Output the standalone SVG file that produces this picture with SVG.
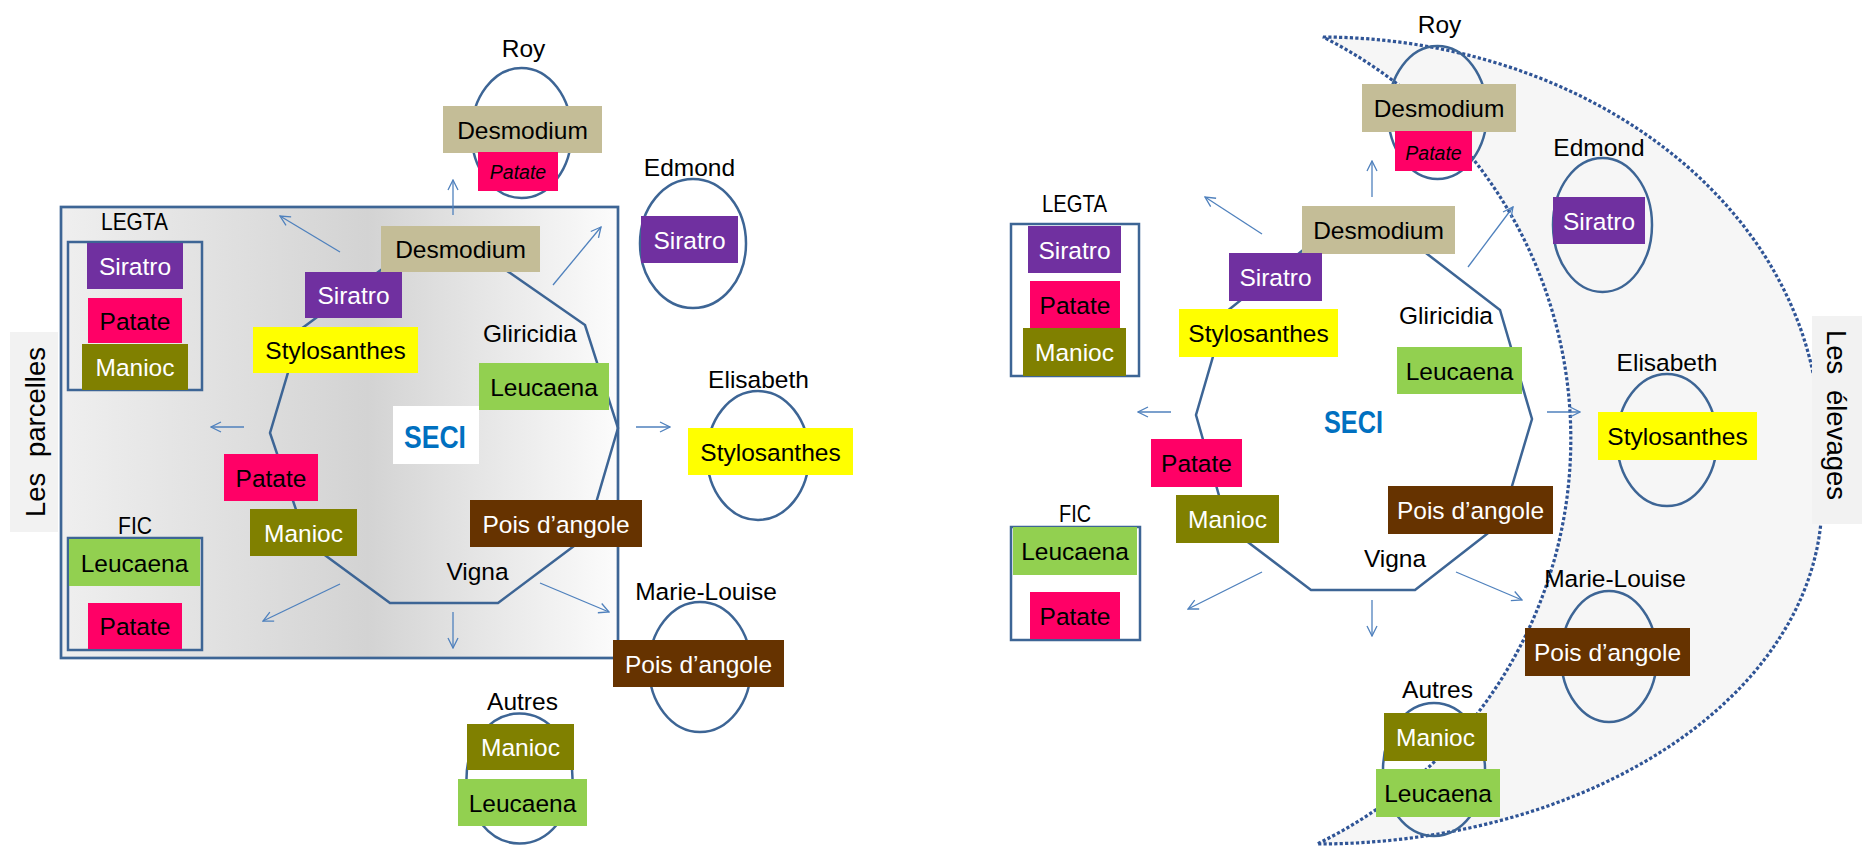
<svg xmlns="http://www.w3.org/2000/svg" width="1865" height="851" viewBox="0 0 1865 851">
<style>
.t{font-family:"Liberation Sans",Arial,sans-serif;font-size:24.5px;text-anchor:middle;fill:#000}
.w{fill:#fff}
.it{font-style:italic;font-size:19.5px}
.pu{fill:#7030a0}.pk{fill:#ff0066}.ol{fill:#808000}.ye{fill:#ffff00}.gr{fill:#92d050}.br{fill:#663300}.ta{fill:#c4bd97}
.ln{fill:none;stroke:#3d6595;stroke-width:2.5}
.ar{fill:none;stroke:#4f81bd;stroke-width:1.3;marker-end:url(#ah)}
.seci{font-family:"Liberation Sans",Arial,sans-serif;font-weight:bold;font-size:32px;fill:#0070c0;text-anchor:middle}
.side{font-family:"Liberation Sans",Arial,sans-serif;font-size:27.5px;text-anchor:middle;fill:#000;word-spacing:8px}
</style>
<defs>
<linearGradient id="gb" x1="0" y1="0" x2="1" y2="0">
<stop offset="0" stop-color="#efefef"/>
<stop offset="0.55" stop-color="#d3d3d3"/>
<stop offset="1" stop-color="#fcfcfc"/>
</linearGradient>
<marker id="ah" viewBox="0 0 12 12" refX="11" refY="6" markerWidth="12" markerHeight="12" markerUnits="userSpaceOnUse" orient="auto">
<path d="M1,1 L11,6 L1,11" fill="none" stroke="#4f81bd" stroke-width="1.3"/>
</marker>
</defs>
<rect width="1865" height="851" fill="#fff"/>

<!-- ===== LEFT DIAGRAM ===== -->
<g id="parcelles-area">
<rect x="61" y="207" width="557" height="451" fill="url(#gb)" stroke="#3d6595" stroke-width="2.7"/>
</g>
<g id="label-parcelles">
<rect x="10" y="332" width="48" height="200" fill="#f2f2f2"/>
<text class="side" transform="translate(45,432) rotate(-90)">Les parcelles</text>
</g>

<g id="L-legta">
<text class="t" x="134.5" y="230" textLength="67" lengthAdjust="spacingAndGlyphs">LEGTA</text>
<rect class="ln" x="68" y="242" width="134" height="148"/>
<rect class="pu" x="87" y="243" width="96" height="46"/><text class="t w" x="135" y="275">Siratro</text>
<rect class="pk" x="88" y="298" width="94" height="45"/><text class="t" x="135" y="329.5">Patate</text>
<rect class="ol" x="82" y="344" width="106" height="46"/><text class="t w" x="135" y="376">Manioc</text>
</g>

<g id="L-fic">
<text class="t" x="135" y="534" textLength="34" lengthAdjust="spacingAndGlyphs">FIC</text>
<rect class="ln" x="68" y="538" width="134" height="112"/>
<rect class="gr" x="69" y="539" width="131" height="47"/><text class="t" x="134.5" y="571.5">Leucaena</text>
<rect class="pk" x="88" y="603" width="94" height="46"/><text class="t" x="135" y="635">Patate</text>
</g>

<g id="L-seci">
<polygon class="ln" points="408,250 477,250 585,325 618,428 586,537 498,603 390,603 307,542 270,433 301,329"/>
<rect x="393" y="406" width="86" height="58" fill="#fff"/>
<text class="seci" x="435" y="448" textLength="62" lengthAdjust="spacingAndGlyphs">SECI</text>
<rect class="ta" x="381" y="226" width="159" height="46"/><text class="t" x="460.5" y="258">Desmodium</text>
<rect class="pu" x="305" y="272" width="97" height="46"/><text class="t w" x="353.5" y="304">Siratro</text>
<rect class="ye" x="253" y="327" width="165" height="46"/><text class="t" x="335.5" y="359">Stylosanthes</text>
<text class="t" x="530" y="342">Gliricidia</text>
<rect class="gr" x="479" y="363" width="130" height="47"/><text class="t" x="544" y="395.5">Leucaena</text>
<rect class="pk" x="224" y="454" width="94" height="47"/><text class="t" x="271" y="486.5">Patate</text>
<rect class="ol" x="250" y="509" width="107" height="47"/><text class="t w" x="303.5" y="541.5">Manioc</text>
<rect class="br" x="470" y="500" width="172" height="47"/><text class="t w" x="556" y="532.5">Pois d’angole</text>
<text class="t" x="477.5" y="580">Vigna</text>
</g>

<g id="L-roy">
<text class="t" x="523.5" y="57">Roy</text>
<ellipse class="ln" cx="521.5" cy="133" rx="50" ry="65"/>
<rect class="ta" x="443" y="106" width="159" height="47"/><text class="t" x="522.5" y="138.5">Desmodium</text>
<rect class="pk" x="478" y="152" width="80" height="39"/><text class="t it" x="518" y="179">Patate</text>
</g>

<g id="L-edmond">
<text class="t" x="689.5" y="176">Edmond</text>
<ellipse class="ln" cx="693" cy="243.5" rx="53" ry="64.5"/>
<rect class="pu" x="641" y="216" width="97" height="47"/><text class="t w" x="689.5" y="248.5">Siratro</text>
</g>

<g id="L-elisabeth">
<text class="t" x="758.5" y="388">Elisabeth</text>
<ellipse class="ln" cx="758" cy="455.5" rx="51" ry="64.5"/>
<rect class="ye" x="688" y="428" width="165" height="47"/><text class="t" x="770.5" y="460.5">Stylosanthes</text>
</g>

<g id="L-marie-louise">
<text class="t" x="706" y="600">Marie-Louise</text>
<ellipse class="ln" cx="700" cy="667" rx="51" ry="65"/>
<rect class="br" x="613" y="640" width="171" height="47"/><text class="t w" x="698.5" y="672.5">Pois d’angole</text>
</g>

<g id="L-autres">
<text class="t" x="522.5" y="710">Autres</text>
<ellipse class="ln" cx="519.5" cy="778.5" rx="53" ry="65"/>
<rect class="ol" x="467" y="724" width="107" height="46"/><text class="t w" x="520.5" y="756">Manioc</text>
<rect class="gr" x="458" y="779" width="129" height="47"/><text class="t" x="522.5" y="811.5">Leucaena</text>
</g>

<!-- ===== RIGHT DIAGRAM ===== -->
<g id="elevages-area">
<path d="M1323,37 A500,403 0 0 1 1820,440 L1822,500 A505,344 0 0 1 1317,844 A450,450 0 0 0 1323,37 Z" fill="#f6f6f6" stroke="#2f5496" stroke-width="3.2" stroke-dasharray="3.2 2.2"/>
</g>
<g id="label-elevages">
<rect x="1812" y="316" width="50" height="208" fill="#f2f2f2"/>
<text class="side" transform="translate(1827,415) rotate(90)">Les élevages</text>
</g>

<g id="R-legta">
<text class="t" x="1074.5" y="212" textLength="65" lengthAdjust="spacingAndGlyphs">LEGTA</text>
<rect class="ln" x="1011" y="224" width="128" height="152"/>
<rect class="pu" x="1028" y="226" width="93" height="47"/><text class="t w" x="1074.5" y="258.5">Siratro</text>
<rect class="pk" x="1030" y="281" width="90" height="47"/><text class="t" x="1075" y="313.5">Patate</text>
<rect class="ol" x="1023" y="328" width="103" height="48"/><text class="t w" x="1074.5" y="361">Manioc</text>
</g>

<g id="R-fic">
<text class="t" x="1075" y="522" textLength="32" lengthAdjust="spacingAndGlyphs">FIC</text>
<rect class="ln" x="1011" y="527" width="129" height="113"/>
<rect class="gr" x="1013" y="527" width="124" height="48"/><text class="t" x="1075" y="560">Leucaena</text>
<rect class="pk" x="1030" y="592" width="90" height="47"/><text class="t" x="1075" y="624.5">Patate</text>
</g>

<g id="R-seci">
<polygon class="ln" points="1328,230 1396,230 1500,310 1532,419 1501,523 1415,590 1311,590 1228,527 1196,415 1226,312"/>
<text class="seci" x="1353.5" y="433" textLength="59" lengthAdjust="spacingAndGlyphs">SECI</text>
<rect class="ta" x="1302" y="206" width="153" height="48"/><text class="t" x="1378.5" y="239">Desmodium</text>
<rect class="pu" x="1229" y="253" width="93" height="48"/><text class="t w" x="1275.5" y="286">Siratro</text>
<rect class="ye" x="1179" y="309" width="159" height="48"/><text class="t" x="1258.5" y="342">Stylosanthes</text>
<text class="t" x="1446" y="324">Gliricidia</text>
<rect class="gr" x="1397" y="347" width="125" height="47"/><text class="t" x="1459.5" y="379.5">Leucaena</text>
<rect class="pk" x="1151" y="439" width="91" height="48"/><text class="t" x="1196.5" y="472">Patate</text>
<rect class="ol" x="1176" y="495" width="103" height="48"/><text class="t w" x="1227.5" y="528">Manioc</text>
<rect class="br" x="1388" y="486" width="165" height="48"/><text class="t w" x="1470.5" y="519">Pois d’angole</text>
<text class="t" x="1395" y="567">Vigna</text>
</g>

<g id="R-roy">
<text class="t" x="1439.5" y="33">Roy</text>
<ellipse class="ln" cx="1437.5" cy="112.5" rx="49.5" ry="66.5"/>
<rect class="ta" x="1362" y="84" width="154" height="48"/><text class="t" x="1439" y="117">Desmodium</text>
<rect class="pk" x="1395" y="131" width="77" height="40"/><text class="t it" x="1433.5" y="160">Patate</text>
</g>

<g id="R-edmond">
<text class="t" x="1599" y="156">Edmond</text>
<ellipse class="ln" cx="1602.5" cy="225" rx="49.5" ry="67"/>
<rect class="pu" x="1553" y="197" width="92" height="47"/><text class="t w" x="1599" y="229.5">Siratro</text>
</g>

<g id="R-elisabeth">
<text class="t" x="1667" y="371">Elisabeth</text>
<ellipse class="ln" cx="1667" cy="440" rx="50" ry="66"/>
<rect class="ye" x="1598" y="412" width="159" height="48"/><text class="t" x="1677.5" y="445">Stylosanthes</text>
</g>

<g id="R-marie-louise">
<text class="t" x="1615" y="587">Marie-Louise</text>
<ellipse class="ln" cx="1609" cy="656.5" rx="48" ry="65.5"/>
<rect class="br" x="1525" y="628" width="165" height="48"/><text class="t w" x="1607.5" y="661">Pois d’angole</text>
</g>

<g id="R-autres">
<text class="t" x="1437.5" y="698">Autres</text>
<ellipse class="ln" cx="1434" cy="769.5" rx="51" ry="66.5"/>
<rect class="ol" x="1384" y="713" width="103" height="48"/><text class="t w" x="1435.5" y="746">Manioc</text>
<rect class="gr" x="1376" y="769" width="124" height="48"/><text class="t" x="1438" y="802">Leucaena</text>
</g>

<g id="connectors">
<line class="ar" x1="453" y1="215" x2="453" y2="180"/>
<line class="ar" x1="340" y1="252" x2="280" y2="216"/>
<line class="ar" x1="244" y1="427" x2="211" y2="427"/>
<line class="ar" x1="340" y1="584" x2="263" y2="621"/>
<line class="ar" x1="453" y1="612" x2="453" y2="648"/>
<line class="ar" x1="540" y1="583" x2="609" y2="612"/>
<line class="ar" x1="636" y1="427" x2="670" y2="427"/>
<line class="ar" x1="553" y1="285" x2="601" y2="227"/>
<line class="ar" x1="1262" y1="234" x2="1205" y2="197"/>
<line class="ar" x1="1372" y1="197" x2="1372" y2="161"/>
<line class="ar" x1="1468" y1="267" x2="1513" y2="207"/>
<line class="ar" x1="1171" y1="412" x2="1138" y2="412"/>
<line class="ar" x1="1547" y1="412" x2="1580" y2="412"/>
<line class="ar" x1="1262" y1="572" x2="1188" y2="609"/>
<line class="ar" x1="1372" y1="600" x2="1372" y2="636"/>
<line class="ar" x1="1456" y1="572" x2="1522" y2="600"/>
</g>
</svg>
